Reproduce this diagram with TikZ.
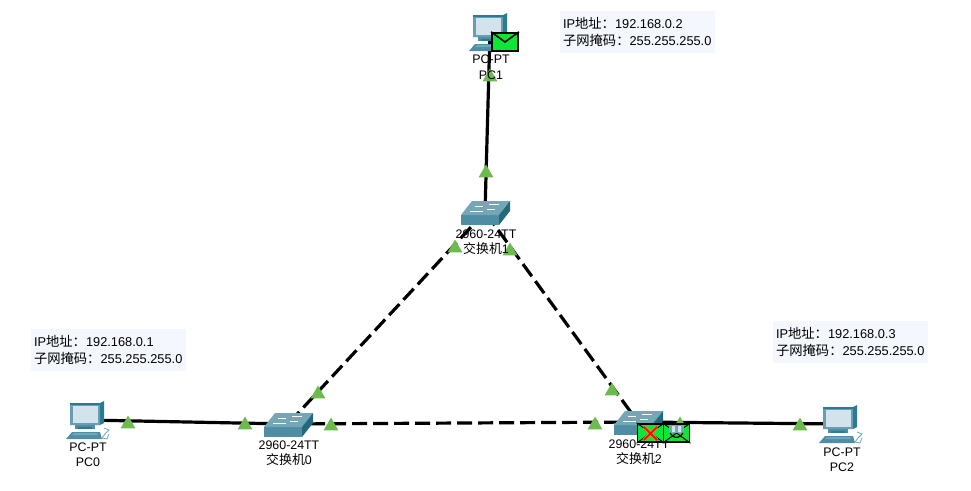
\documentclass[tikz,border=0pt]{standalone}
\usepackage{fontspec}
\usepackage{xcolor}
\setmainfont{Liberation Sans}
\newfontfamily\cjk[Scale=1.04]{Noto Sans CJK SC}
\usetikzlibrary{shapes.geometric,backgrounds}
\definecolor{linkgreen}{HTML}{6DBB4F}
\definecolor{mailgreen}{HTML}{0EE636}
\definecolor{infofill}{HTML}{F5F7FE}
\definecolor{tealtop}{HTML}{74A6B6}
\definecolor{tealfront}{HTML}{4F8DA5}
\definecolor{tealside}{HTML}{2A7A94}
\definecolor{screenfill}{HTML}{D2E3EB}
\newcommand{\addr}[2]{IP{\cjk 地址：}#1\\{\cjk 子网掩码：}#2}

\begin{document}
\begin{tikzpicture}[
    x=1pt,y=-1pt,
    device/.style={inner sep=0pt,minimum size=2pt},
    link/.style={line width=3.2pt,draw=black},
    trunk/.style={link,dash pattern=on 15pt off 6pt},
    devlabel/.style={font=\fontsize{12.4}{14}\selectfont,inner sep=0pt,text=black},
    info/.style={fill=infofill,minimum width=155pt,minimum height=42pt,inner sep=3pt,align=left,text width=149pt,font=\fontsize{12.8}{17}\selectfont,text=black},
    lamp/.style={regular polygon,regular polygon sides=3,fill=linkgreen,inner sep=0pt,minimum size=17pt,yshift=-2pt},
    mail/.style={draw=black,line width=1.8pt,fill=mailgreen,minimum width=26pt,minimum height=18.5pt,inner sep=0pt},
    flap/.style={line width=1pt,draw=black},
    pcicon/.pic={
      \fill[tealside] (-17,-17) -- (13,-17) -- (17,-19) -- (17,3) -- (13,5) -- (-17,5) -- cycle;
      \fill[tealfront!85] (-17,-15) rectangle (13,5);
      \fill[screenfill] (-14,-14) rectangle (11,3);
      \fill[tealfront] (-12,5) rectangle (8,9);
      \fill[tealside] (-9,7) rectangle (5,9);
      \fill[tealfront] (-15,12) -- (13,12) -- (15,19) -- (-21,19) -- cycle;
      \fill[tealtop] (-13,13) -- (10,13) -- (11,15) -- (-15,15) -- cycle;
      \draw[tealtop,line width=.8pt] (17,8) -- (22,10) -- (18,14) -- (15,18) -- (20,19) -- (22,14);
    },
    swicon/.pic={
      \fill[tealfront] (-24,3) rectangle (14,13);
      \fill[tealtop] (-24,3) -- (-13,-11) -- (25,-11) -- (14,3) -- cycle;
      \fill[tealside!85!black] (14,3) -- (25,-11) -- (25,-1) -- (14,13) -- cycle;
      \draw[white,line width=.8pt] (-10,-6) -- (-2,-6) (4,-8) -- (14,-8) (-15,-1) -- (-2,-1) (2,-3) -- (10,-3);
    }
  ]
    \useasboundingbox (0,0) rectangle (971,490);

    % devices
    \node[device] (pc0) at (87,420) {};
    \node[device] (pc1) at (490,32) {};
    \node[device] (pc2) at (840,424) {};
    \node[device] (sw0) at (288,424) {};
    \node[device] (sw1) at (485,212) {};
    \node[device] (sw2) at (638,422) {};

    % links
    \draw[link] (pc0) -- (sw0);
    \draw[link] (pc1) -- (sw1);
    \draw[link] (sw2) -- (pc2);
    \draw[trunk] (sw0) -- (sw1);
    \draw[trunk] (sw1) -- (sw2);
    \draw[trunk] (sw0) -- (sw2);

    % port lights
    \foreach \px/\py [count=\i] in {128/422,245/423,318/392,331/424,595/423,612/389,680/423,800/424,486/171,455/246,510/249,490/75}
      \node[lamp] (lamp\i) at (\px,\py) {};

    \foreach \dev in {pc0,pc1,pc2}
      \pic at (\dev) {pcicon};
    \foreach \dev in {sw0,sw1,sw2}
      \pic at (\dev) {swicon};

    % labels
    \node[devlabel] (pc0type) at (88,447) {PC-PT};
    \node[devlabel] (pc0name) at (88,462) {PC0};
    \node[devlabel] (pc1type) at (491,59) {PC-PT};
    \node[devlabel] (pc1name) at (491,75) {PC1};
    \node[devlabel] (pc2type) at (842,452) {PC-PT};
    \node[devlabel] (pc2name) at (842,467) {PC2};
    \node[devlabel] (sw0type) at (289,445) {2960-24TT};
    \node[devlabel] (sw0name) at (289,460) {\cjk 交换机{\rmfamily 0}};
    \node[devlabel] (sw1type) at (486,234) {2960-24TT};
    \node[devlabel] (sw1name) at (486,249) {\cjk 交换机{\rmfamily 1}};
    \node[devlabel] (sw2type) at (639,444) {2960-24TT};
    \node[devlabel] (sw2name) at (639,459) {\cjk 交换机{\rmfamily 2}};

    % address notes
    \node[info] (info0) at (108.5,350) {\addr{192.168.0.1}{255.255.255.0}};
    \node[info] (info1) at (637.5,32) {\addr{192.168.0.2}{255.255.255.0}};
    \node[info] (info2) at (850.5,342) {\addr{192.168.0.3}{255.255.255.0}};

    % packets
    \node[mail] (mail1) at (505,42) {};
    \draw[line width=1.6pt] (mail1.north west) -- (mail1.center) -- (mail1.north east);
    \node[mail] (mail2) at (650.5,433) {};
    \draw[flap] (mail2.north west) -- (mail2.center) -- (mail2.north east) (mail2.south west) -- (mail2.center) -- (mail2.south east);
    \draw[orange,line width=3.4pt] (644,427) -- (657,440) (657,427) -- (644,440);
    \draw[red,line width=1.6pt] (644,427) -- (657,440) (657,427) -- (644,440);
    \node[mail] (mail3) at (676.5,433) {};
    \draw[flap] (mail3.north west) -- (mail3.center) -- (mail3.north east) (mail3.south west) -- (mail3.center) -- (mail3.south east);
    \fill[tealtop] (669,425) rectangle (684,433);
    \fill[screenfill] (672,426) rectangle (675,432) (678,426) rectangle (681,432);
    \draw[line width=1.2pt] (670,433) .. controls (673,439) and (680,439) .. (683,433);
  \end{tikzpicture}
\end{document}
